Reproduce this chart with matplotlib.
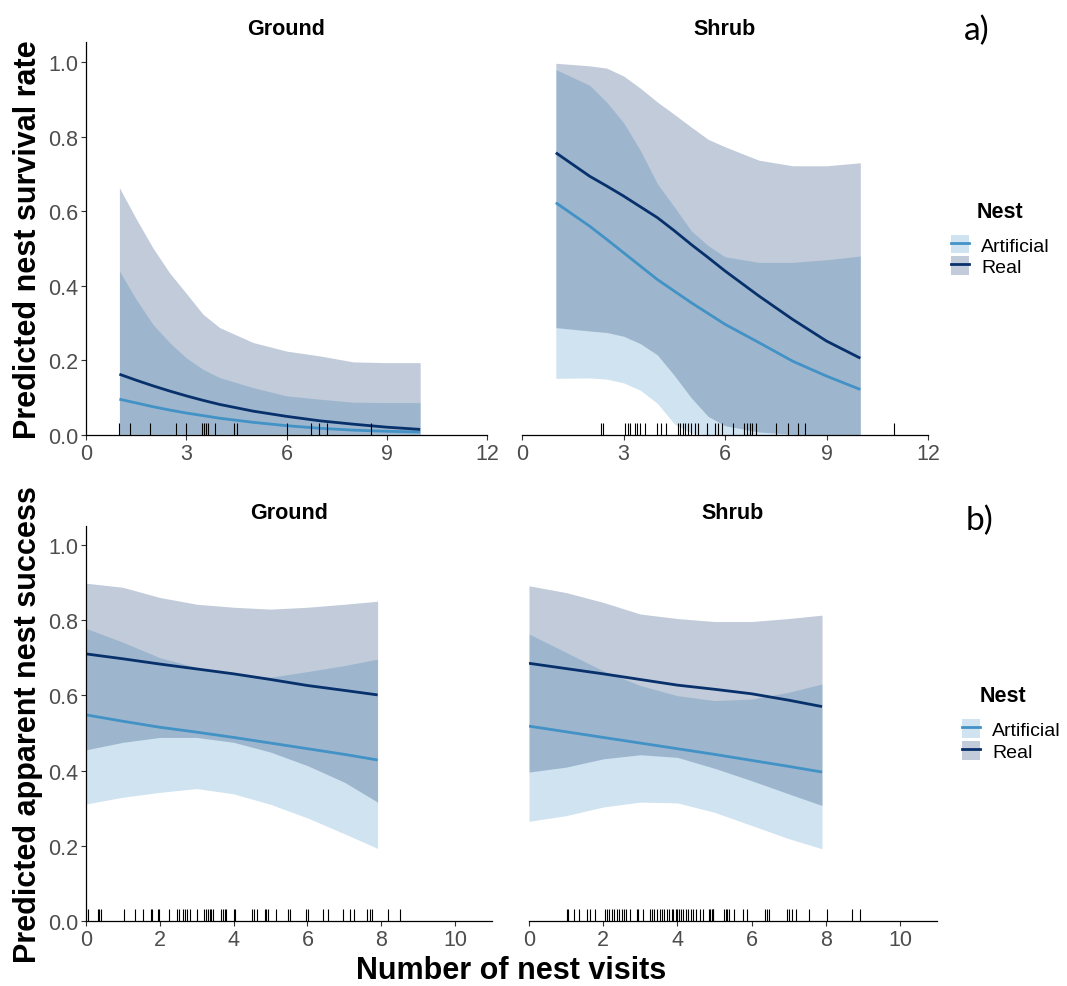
import matplotlib.pyplot as plt
from matplotlib.patches import Patch
from matplotlib.lines import Line2D
from matplotlib.legend_handler import HandlerTuple

plt.rcParams['font.family'] = ['Liberation Sans', 'DejaVu Sans']

# ---------------------------------------------------------------
# a) predicted nest survival rate, Ground
x_surv_ground = [1, 1.5, 2, 2.5, 3, 3.5, 4, 5, 6, 7, 8, 9, 10]
real_surv_ground = [0.163, 0.147, 0.132, 0.118, 0.105, 0.093, 0.082, 0.064, 0.050, 0.038, 0.029, 0.021, 0.015]
real_surv_ground_hi = [0.663, 0.58, 0.502, 0.435, 0.38, 0.324, 0.288, 0.248, 0.225, 0.212, 0.196, 0.194, 0.194]
real_surv_ground_lo = [0.002] * 13
art_surv_ground = [0.096, 0.086, 0.076, 0.067, 0.059, 0.052, 0.045, 0.034, 0.025, 0.018, 0.013, 0.010, 0.008]
art_surv_ground_hi = [0.44, 0.364, 0.297, 0.248, 0.207, 0.176, 0.154, 0.127, 0.105, 0.096, 0.088, 0.087, 0.087]
art_surv_ground_lo = [0.0] * 13
rug_surv_ground = [1.0, 1.33, 1.91, 2.68, 2.98, 3.48, 3.53, 3.60, 3.65, 3.87, 4.44, 4.53,
                   6.0, 6.72, 6.96, 7.22, 8.52]

# a) predicted nest survival rate, Shrub
x_surv_shrub = [1, 2, 2.5, 3, 3.5, 4, 4.5, 5, 5.5, 6, 7, 8, 9, 10]
real_surv_shrub = [0.757, 0.694, 0.668, 0.641, 0.612, 0.583, 0.548, 0.511, 0.476, 0.44, 0.373, 0.31, 0.252, 0.206]
real_surv_shrub_hi = [0.997, 0.99, 0.984, 0.963, 0.93, 0.893, 0.86, 0.826, 0.793, 0.773, 0.737, 0.722, 0.722, 0.73]
real_surv_shrub_lo = [0.288, 0.279, 0.275, 0.265, 0.245, 0.215, 0.16, 0.10, 0.05, 0.025, 0.008, 0.002, 0.001, 0.001]
art_surv_shrub = [0.623, 0.56, 0.525, 0.489, 0.453, 0.417, 0.386, 0.355, 0.326, 0.297, 0.248, 0.198, 0.158, 0.122]
art_surv_shrub_hi = [0.98, 0.938, 0.893, 0.838, 0.763, 0.674, 0.612, 0.548, 0.508, 0.478, 0.463, 0.463, 0.47, 0.48]
art_surv_shrub_lo = [0.152, 0.153, 0.15, 0.14, 0.12, 0.085, 0.03, 0.005, 0.0, 0.0, 0.0, 0.0, 0.0, 0.0]
rug_surv_shrub = [2.33, 2.40, 3.05, 3.13, 3.20, 3.35, 3.40, 3.50, 3.65, 4.00, 4.10, 4.25,
                  4.60, 4.67, 4.75, 4.83, 4.90, 5.00, 5.10, 5.20, 5.47, 5.70, 5.80, 5.90,
                  6.23, 6.57, 6.65, 6.73, 6.80, 6.93, 7.50, 7.87, 8.15, 8.35, 11.0]

# b) predicted apparent nest success, Ground
x_succ_ground = [0, 1, 2, 3, 4, 5, 6, 7, 7.9]
real_succ_ground = [0.71, 0.697, 0.683, 0.670, 0.657, 0.642, 0.626, 0.613, 0.601]
real_succ_ground_hi = [0.898, 0.887, 0.86, 0.842, 0.834, 0.829, 0.834, 0.842, 0.85]
real_succ_ground_lo = [0.455, 0.475, 0.488, 0.488, 0.475, 0.449, 0.413, 0.369, 0.316]
art_succ_ground = [0.548, 0.531, 0.515, 0.502, 0.488, 0.473, 0.458, 0.443, 0.428]
art_succ_ground_hi = [0.778, 0.741, 0.70, 0.674, 0.657, 0.648, 0.663, 0.679, 0.696]
art_succ_ground_lo = [0.311, 0.329, 0.342, 0.352, 0.338, 0.31, 0.274, 0.232, 0.193]
rug_succ_ground = [0.06, 0.32, 0.36, 0.41, 1.04, 1.34, 1.54, 1.75, 1.78, 1.95, 1.99, 2.26,
                   2.47, 2.53, 2.62, 2.67, 2.73, 2.83, 3.00, 3.21, 3.26, 3.30, 3.35, 3.39,
                   3.44, 3.67, 3.71, 3.76, 3.80, 4.00, 4.03, 4.51, 4.54, 4.62, 4.84, 4.89,
                   4.93, 5.14, 5.48, 5.52, 5.97, 6.02, 6.43, 6.56, 6.97, 7.15, 7.26, 7.60,
                   7.69, 7.74, 8.19, 8.52]

# b) predicted apparent nest success, Shrub
x_succ_shrub = [0, 1, 2, 3, 4, 5, 6, 7, 7.9]
real_succ_shrub = [0.685, 0.671, 0.657, 0.642, 0.627, 0.616, 0.604, 0.587, 0.57]
real_succ_shrub_hi = [0.891, 0.873, 0.847, 0.816, 0.804, 0.796, 0.796, 0.804, 0.813]
real_succ_shrub_lo = [0.396, 0.409, 0.431, 0.442, 0.435, 0.406, 0.373, 0.338, 0.307]
art_succ_shrub = [0.518, 0.503, 0.488, 0.473, 0.458, 0.443, 0.427, 0.411, 0.396]
art_succ_shrub_hi = [0.763, 0.714, 0.665, 0.626, 0.599, 0.586, 0.59, 0.608, 0.63]
art_succ_shrub_lo = [0.265, 0.28, 0.303, 0.316, 0.314, 0.289, 0.254, 0.219, 0.192]
rug_succ_shrub = [1.02, 1.06, 1.20, 1.36, 1.56, 1.65, 1.78, 2.05, 2.11, 2.17, 2.23, 2.29,
                  2.37, 2.43, 2.50, 2.56, 2.62, 2.71, 2.90, 2.95, 3.07, 3.26, 3.31, 3.37,
                  3.44, 3.52, 3.58, 3.64, 3.71, 3.78, 3.85, 3.89, 3.97, 4.00, 4.04, 4.10,
                  4.16, 4.23, 4.30, 4.36, 4.43, 4.51, 4.61, 4.70, 4.84, 4.88, 4.93, 4.96,
                  4.97, 5.26, 5.31, 5.35, 5.40, 5.54, 5.76, 5.87, 6.37, 6.43, 6.48, 6.95,
                  7.02, 7.09, 7.20, 7.54, 8.03, 8.71, 8.93]

nest_labels = ['Artificial', 'Real']
col_art = '#4292c6'
col_real = '#08306b'
band_alpha = 0.25

W, H = 1067, 987
fig = plt.figure(figsize=(W / 100, H / 100), dpi=100)


def add_panel(left, right, top, bottom):
    return fig.add_axes([left / W, 1 - bottom / H, (right - left) / W, (bottom - top) / H])


def draw(ax, x, art, art_lo, art_hi, real, real_lo, real_hi, rug, title,
         xlim, xticks, ytop, show_y):
    ax.fill_between(x, art_lo, art_hi, color=col_art, alpha=band_alpha, lw=0)
    ax.fill_between(x, real_lo, real_hi, color=col_real, alpha=band_alpha, lw=0)
    ax.plot(x, art, color=col_art, lw=2.0, solid_capstyle='butt')
    ax.plot(x, real, color=col_real, lw=2.0, solid_capstyle='butt')
    ax.vlines(rug, 0, 0.03, transform=ax.get_xaxis_transform(), color='black', lw=0.8)
    ax.set_xlim(*xlim)
    ax.set_ylim(0, ytop)
    ax.set_xticks(xticks)
    ax.set_title(title, fontsize=15.5, fontweight='bold', pad=5.5)
    for s in ['top', 'right']:
        ax.spines[s].set_visible(False)
    ax.spines['bottom'].set_linewidth(0.9)
    ax.spines['left'].set_linewidth(0.9)
    ax.tick_params(axis='both', labelsize=15.5, labelcolor='#4d4d4d', color='#333333',
                   length=3.5, width=0.8, pad=2)
    if show_y:
        ax.set_yticks([0, 0.2, 0.4, 0.6, 0.8, 1.0])
        ax.set_yticklabels(['0.0', '0.2', '0.4', '0.6', '0.8', '1.0'])
    else:
        ax.spines['left'].set_visible(False)
        ax.set_yticks([])


ax1 = add_panel(86, 487, 43, 436)
draw(ax1, x_surv_ground, art_surv_ground, art_surv_ground_lo, art_surv_ground_hi,
     real_surv_ground, real_surv_ground_lo, real_surv_ground_hi, rug_surv_ground,
     'Ground', (0, 12), [0, 3, 6, 9, 12], 1.054, True)
ax2 = add_panel(522, 928, 43, 436)
draw(ax2, x_surv_shrub, art_surv_shrub, art_surv_shrub_lo, art_surv_shrub_hi,
     real_surv_shrub, real_surv_shrub_lo, real_surv_shrub_hi, rug_surv_shrub,
     'Shrub', (0, 12), [0, 3, 6, 9, 12], 1.054, False)
ax3 = add_panel(86, 492, 527, 922)
draw(ax3, x_succ_ground, art_succ_ground, art_succ_ground_lo, art_succ_ground_hi,
     real_succ_ground, real_succ_ground_lo, real_succ_ground_hi, rug_succ_ground,
     'Ground', (0, 11), [0, 2, 4, 6, 8, 10], 1.05, True)
ax4 = add_panel(529, 937, 527, 922)
draw(ax4, x_succ_shrub, art_succ_shrub, art_succ_shrub_lo, art_succ_shrub_hi,
     real_succ_shrub, real_succ_shrub_lo, real_succ_shrub_hi, rug_succ_shrub,
     'Shrub', (0, 11), [0, 2, 4, 6, 8, 10], 1.05, False)

fig.text(28 / W, 1 - 240 / H, 'Predicted nest survival rate', rotation=90,
         ha='center', va='center', fontsize=22, fontweight='bold')
fig.text(28 / W, 1 - 725 / H, 'Predicted apparent nest success', rotation=90,
         ha='center', va='center', fontsize=22, fontweight='bold')
fig.text(511 / W, 1 - 971 / H, 'Number of nest visits', ha='center', va='center',
         fontsize=22, fontweight='bold')

fig.text(977 / W, 1 - 31 / H, 'a)', ha='center', va='center', fontsize=24, family='Lato')
fig.text(980 / W, 1 - 521 / H, 'b)', ha='center', va='center', fontsize=24, family='Lato')


def nest_legend(x_left, y_mid, x_title, y_title):
    handles = [(Patch(facecolor=col_art, alpha=band_alpha, lw=0), Line2D([], [], color=col_art, lw=2)),
               (Patch(facecolor=col_real, alpha=band_alpha, lw=0), Line2D([], [], color=col_real, lw=2))]
    fig.legend(handles, nest_labels, loc='center left',
               bbox_to_anchor=(x_left / W, 1 - y_mid / H),
               handler_map={tuple: HandlerTuple(ndivide=1)},
               frameon=False, fontsize=14,
               handlelength=0.95, handleheight=1.1, handletextpad=0.6,
               labelspacing=0.1, borderaxespad=0, borderpad=0)
    fig.text(x_title / W, 1 - y_title / H, 'Nest', ha='center', va='center',
             fontsize=15.5, fontweight='bold')


nest_legend(951, 256.5, 1000, 212)
nest_legend(962, 741, 1003, 697)

fig.savefig('out.png', dpi=100)
